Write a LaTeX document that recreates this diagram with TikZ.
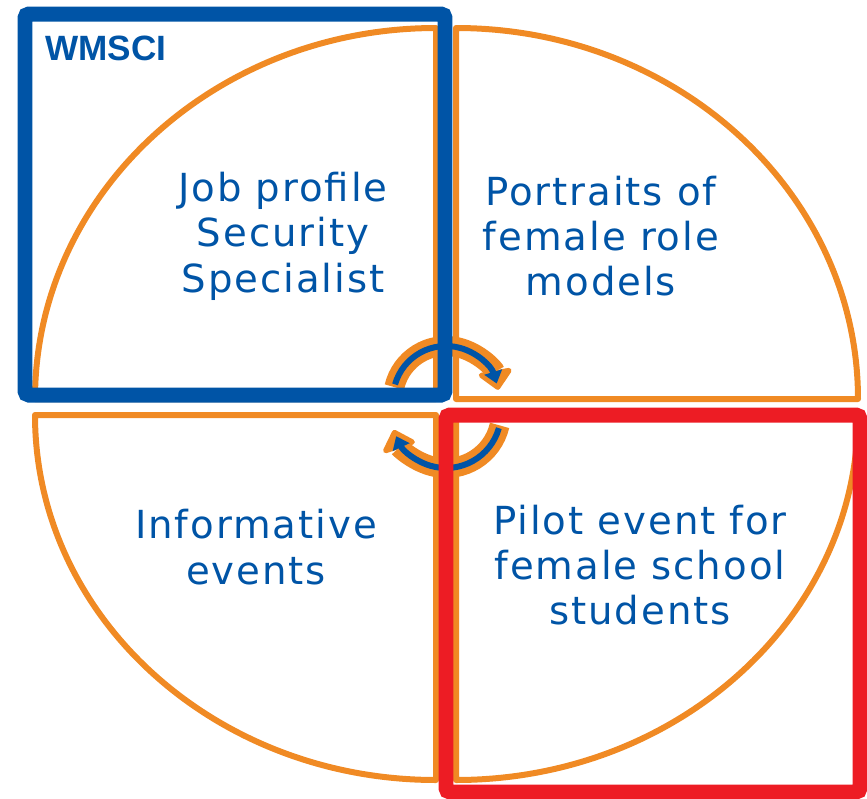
\documentclass[tikz,border=0pt]{standalone}
\usepackage{fontspec}
\usepackage{tikz}
\usetikzlibrary{arrows.meta}
\newfontfamily\quadfont[LetterSpace=5]{DejaVu Sans}
\newfontfamily\tagfont{Liberation Sans}
\definecolor{wblue}{HTML}{0054A6}
\definecolor{worange}{HTML}{F08A24}
\definecolor{wred}{HTML}{ED1C24}

\begin{document}
\begin{tikzpicture}[x=0.02cm,y=0.02cm,
    quad/.style={draw=worange,line width=0.12cm,line join=round},
    quadtext/.style={text=wblue,align=center,font=\quadfont\fontsize{22pt}{25.8pt}\selectfont},
    spin/.style={worange,line width=0.4cm,-{Triangle[round,length=0.42cm,width=0.78cm]}},
    spincore/.style={wblue,line width=0.12cm,-{Triangle[length=0.24cm,width=0.36cm]}},
    frame/.style={line width=0.3cm,rounded corners=0.08cm}]
      \useasboundingbox (0,0) rectangle (867,-799);
      % Quadrants
      \draw[quad] (436,-399) -- (35,-399)
      arc[start angle=180,end angle=90,x radius=401,y radius=371] -- cycle;
      \draw[quad] (456,-399) -- (456,-28)
      arc[start angle=90,end angle=0,x radius=402,y radius=371] -- cycle;
      \draw[quad] (436,-415) -- (436,-780)
      arc[start angle=270,end angle=180,x radius=401,y radius=365] -- cycle;
      \draw[quad] (456,-415) -- (858,-415)
      arc[start angle=0,end angle=-90,x radius=402,y radius=365] -- cycle;
      % Arrows
      \coordinate (upper) at (446,-399);
      \coordinate (lower) at (446,-413);
      \draw[spin] ([shift={(167:53)}]upper) arc[start angle=167,end angle=10,radius=53];
      \draw[spincore] ([shift={(164:53)}]upper) arc[start angle=164,end angle=17,radius=53];
      \draw[spin] ([shift={(-13:55)}]lower) arc[start angle=-13,end angle=-162,radius=55];
      \draw[spincore] ([shift={(-16:55)}]lower) arc[start angle=-16,end angle=-155,radius=55];
      % Frames
      \draw[frame,wblue] (25,-14) rectangle (445,-395);
      \draw[frame,wred] (446,-415) rectangle (860,-792);
      % Labels
      \node[anchor=north west,text=wblue,font=\tagfont\bfseries\fontsize{20pt}{24pt}\selectfont,inner sep=0pt] (wmsci) at (45,-36) {WMSCI};
      \node[quadtext] (jobprofile) at (283,-236) {Job profile\\Security\\Specialist};
      \node[quadtext] (portraits) at (601,-236) {Portraits of\\female role\\models};
      \node[quadtext] (informative) at (256,-547) {Informative\\events};
      \node[quadtext] (pilot) at (640,-565) {Pilot event for\\female school\\students};
    \end{tikzpicture}
\end{document}
